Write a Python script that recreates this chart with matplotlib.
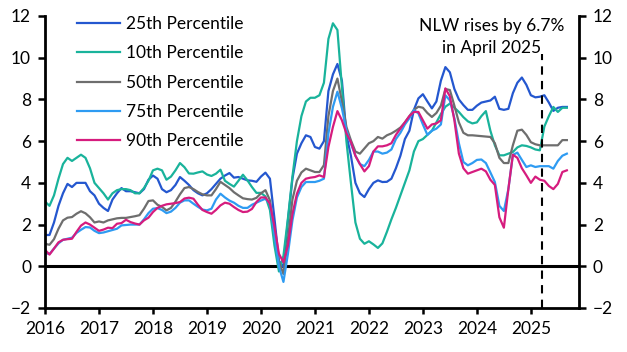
import numpy as np
import matplotlib
matplotlib.use("Agg")
import matplotlib.pyplot as plt

plt.rcParams['font.family'] = ['Lato', 'DejaVu Sans']

# Monthly data, Jan 2016 - Sep 2025 (annual growth, %)
p25 = [1.5, 1.5, 2.1, 2.9, 3.5, 3.95, 3.8, 4.0, 4.0, 4.0, 3.6, 3.4,
       3.0, 2.8, 2.65, 3.2, 3.5, 3.75, 3.6, 3.6, 3.55, 3.5, 3.7, 4.15,
       4.35, 4.2, 3.7, 3.55, 3.65, 3.9, 4.28, 4.1, 3.9, 3.65, 3.5, 3.4,
       3.5, 3.7, 3.95, 4.2, 4.35, 4.47, 4.25, 4.28, 4.2, 4.12, 4.1, 4.05,
       4.3, 4.49, 4.2, 2.3, 0.27, -0.05, 2.2, 4.2, 5.4, 5.9, 6.28, 6.2,
       5.72, 5.64, 6.0, 8.4, 9.2, 9.7, 8.9, 6.3, 5.3, 4.0, 3.5, 3.32,
       3.7, 4.0, 4.12, 4.04, 4.05, 4.2, 4.7, 5.3, 6.1, 6.5, 7.5, 8.05,
       8.25, 7.9, 7.57, 7.9, 8.9, 9.55, 9.3, 8.5, 8.0, 7.73, 7.5, 7.5,
       7.7, 7.85, 7.9, 7.95, 8.13, 7.55, 7.5, 7.55, 8.3, 8.8, 9.05, 8.7,
       8.2, 8.1, 8.13, 8.2, 7.85, 7.45, 7.6, 7.64, 7.64]

p10 = [3.1, 2.9, 3.4, 4.2, 4.9, 5.2, 5.05, 5.2, 5.35, 5.2, 4.7, 4.0,
       3.75, 3.5, 3.2, 3.5, 3.65, 3.7, 3.7, 3.65, 3.5, 3.5, 3.75, 4.1,
       4.6, 4.68, 4.6, 4.15, 4.3, 4.6, 4.95, 4.75, 4.45, 4.44, 4.5, 4.55,
       4.4, 4.33, 4.44, 4.63, 4.1, 3.95, 3.82, 4.1, 4.39, 4.12, 3.8, 3.52,
       3.52, 3.35, 2.7, 1.0, -0.25, 0.5, 2.3, 4.3, 6.0, 7.2, 7.9, 8.08,
       8.08, 8.2, 8.8, 10.9, 11.65, 11.33, 8.6, 6.0, 4.0, 2.1, 1.32, 1.08,
       1.2, 1.05, 0.88, 1.1, 1.65, 2.25, 2.8, 3.4, 4.0, 4.6, 5.5, 6.0,
       6.1, 6.3, 6.5, 6.9, 7.3, 7.65, 7.8, 7.6, 7.4, 7.15, 6.95, 6.85,
       6.9, 7.2, 7.44, 6.5, 5.8, 5.32, 5.32, 5.4, 5.48, 5.7, 5.8, 5.77,
       5.7, 5.6, 5.56, 6.7, 7.2, 7.64, 7.4, 7.6, 7.6]

p50 = [1.08, 1.03, 1.3, 1.8, 2.2, 2.33, 2.36, 2.52, 2.64, 2.54, 2.35, 2.1,
       2.15, 2.1, 2.2, 2.25, 2.3, 2.32, 2.32, 2.36, 2.4, 2.45, 2.76, 3.13,
       3.16, 2.95, 2.85, 2.68, 2.8, 3.1, 3.45, 3.75, 3.8, 3.7, 3.56, 3.45,
       3.4, 3.4, 3.7, 4.05, 3.9, 3.75, 3.55, 3.4, 3.26, 3.22, 3.2, 3.28,
       3.5, 3.65, 3.16, 1.6, 0.2, -0.37, 1.3, 3.2, 4.1, 4.5, 4.68, 4.6,
       4.52, 4.52, 4.85, 7.2, 8.4, 9.0, 7.9, 6.68, 6.04, 5.5, 5.4, 5.65,
       5.9, 6.0, 6.2, 6.12, 6.28, 6.37, 6.5, 6.65, 6.9, 7.2, 7.5, 7.65,
       7.6, 7.35, 7.16, 7.35, 7.7, 8.5, 8.45, 7.7, 6.9, 6.4, 6.28, 6.28,
       6.26, 6.24, 6.22, 6.2, 5.9, 5.2, 4.95, 4.95, 5.8, 6.5, 6.55, 6.3,
       5.95, 5.85, 5.8, 5.8, 5.8, 5.8, 5.8, 6.05, 6.05]

p75 = [0.63, 0.59, 0.85, 1.1, 1.27, 1.32, 1.37, 1.6, 1.75, 1.88, 1.86, 1.7,
       1.59, 1.62, 1.68, 1.74, 1.8, 1.96, 1.98, 2.0, 2.0, 2.0, 2.25, 2.55,
       2.76, 2.79, 2.7, 2.55, 2.62, 2.8, 3.05, 3.16, 3.16, 3.0, 2.85, 2.72,
       2.68, 2.76, 3.2, 3.48, 3.3, 3.15, 3.05, 2.9, 2.8, 2.8, 2.95, 3.05,
       3.15, 3.24, 3.0, 1.5, 0.0, -0.75, 0.6, 2.2, 3.3, 3.8, 4.04, 4.04,
       4.04, 4.1, 4.2, 6.37, 7.64, 8.37, 7.57, 6.52, 5.88, 5.3, 4.9, 4.8,
       5.1, 5.5, 5.5, 5.4, 5.45, 5.6, 6.1, 6.4, 6.8, 7.1, 7.49, 7.33,
       6.8, 6.3, 6.5, 6.6, 6.8, 8.2, 7.95, 7.1, 5.9, 5.0, 4.84, 4.95,
       5.1, 5.12, 4.95, 4.5, 4.04, 2.9, 2.65, 3.7, 5.34, 5.45, 5.1, 4.76,
       4.84, 4.76, 4.8, 4.8, 4.8, 4.68, 5.05, 5.3, 5.4]

p90 = [0.79, 0.56, 0.85, 1.15, 1.27, 1.3, 1.32, 1.65, 1.95, 2.1, 2.0, 1.85,
       1.7, 1.76, 1.85, 1.83, 2.04, 2.07, 2.23, 2.12, 2.05, 2.0, 2.2, 2.33,
       2.6, 2.8, 2.9, 2.97, 3.0, 3.03, 3.08, 3.25, 3.29, 3.24, 2.95, 2.7,
       2.6, 2.52, 2.7, 2.92, 3.05, 3.0, 2.84, 2.7, 2.6, 2.62, 2.75, 3.08,
       3.3, 3.3, 3.0, 1.9, 0.6, 0.19, 1.0, 2.5, 3.48, 4.0, 4.2, 4.25,
       4.28, 4.36, 4.28, 5.72, 6.68, 7.44, 7.0, 6.37, 5.96, 5.3, 4.9, 4.55,
       4.8, 5.5, 5.75, 5.75, 5.8, 5.9, 6.3, 6.6, 6.9, 7.2, 7.4, 7.4,
       7.0, 6.6, 6.8, 6.85, 7.0, 8.53, 8.15, 7.0, 5.4, 4.7, 4.44, 4.52,
       4.6, 4.68, 4.55, 4.15, 3.9, 2.35, 1.85, 3.7, 5.35, 5.2, 4.7, 4.36,
       4.0, 4.3, 4.15, 4.1, 3.85, 3.7, 3.95, 4.52, 4.6]

series_labels = ["25th Percentile", "10th Percentile", "50th Percentile",
                 "75th Percentile", "90th Percentile"]
series_values = [p25, p10, p50, p75, p90]
series_colors = ["#2457CF", "#19B39B", "#6E6E6E", "#2E9BF2", "#D61C7E"]

year_ticks = list(range(2016, 2026))
y_ticks = list(range(-2, 13, 2))
nlw_date = 2025.2
note = "NLW rises by 6.7%\nin April 2025"

n = len(p25)
x = 2016 + np.arange(n) / 12.0

fig = plt.figure(figsize=(6.27, 3.52), dpi=100)
ax = fig.add_axes([45/627, 1 - 308/352, (579-45)/627, (308-16)/352])

for lab, vals, col in zip(series_labels, series_values, series_colors):
    ax.plot(x, vals, color=col, lw=1.6, label=lab, solid_joinstyle='round')

ax.axhline(0, color='black', lw=2.2, zorder=1)
ax.vlines(nlw_date, -2, 10.2, colors='black', linestyles=(0, (4, 3)), lw=1.5)

ax.set_xlim(2016, 2016 + 118.7/12)
ax.set_ylim(-2, 12)
ax.set_xticks(year_ticks)
ax.set_xticklabels([str(y) for y in year_ticks])
ax.set_yticks(y_ticks)

for s in ['left', 'right', 'bottom']:
    ax.spines[s].set_linewidth(2.0)
ax.spines['top'].set_visible(False)

ax.tick_params(axis='y', which='both', direction='out', length=5, width=1.8,
               left=True, right=True, labelleft=True, labelright=True,
               labelsize=12.5, pad=5)
ax.tick_params(axis='x', direction='out', length=4, width=1.8, labelsize=12.5, pad=5)

ax.text(2024.28, 11.0, note, ha='center', va='center', fontsize=12.5,
        linespacing=1.45)

fig.legend(loc='upper left', bbox_to_anchor=(77/627, 1 - 16/352), frameon=False,
           fontsize=12.5, handlelength=2.5, handletextpad=0.3,
           labelspacing=0.77, borderpad=0, borderaxespad=0)

fig.savefig("out.png", dpi=100)
